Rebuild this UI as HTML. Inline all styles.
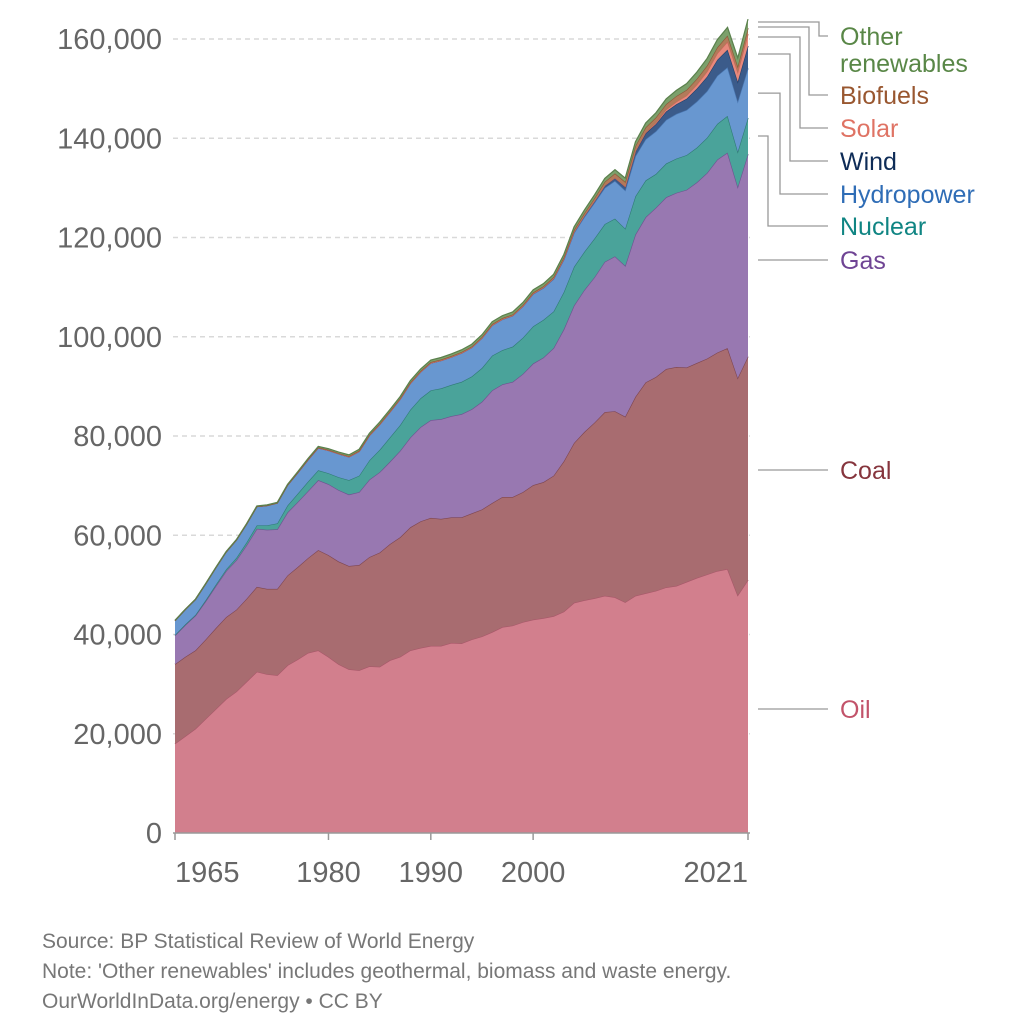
<!DOCTYPE html>
<html><head><meta charset="utf-8">
<style>
body{margin:0;background:#fff;width:1026px;height:1028px;overflow:hidden;font-family:"Liberation Sans",sans-serif}
svg text{font-family:"Liberation Sans",sans-serif}
</style></head><body>
<svg id="chart" width="1026" height="1028" xmlns="http://www.w3.org/2000/svg">
<g id="grid"></g>
<g id="areas"></g>
<g id="axes"></g>
<g id="legend"></g>
<text x="42" y="948" font-size="21" fill="#777">Source: BP Statistical Review of World Energy</text>
<text x="42" y="978" font-size="21" fill="#777">Note: 'Other renewables' includes geothermal, biomass and waste energy.</text>
<text x="42" y="1008" font-size="21" fill="#777">OurWorldInData.org/energy • CC BY</text>
</svg>
<script>
const years = [];for(let y=1965;y<=2021;y++)years.push(y);
const oil = [18000,19500,21000,23000,25000,27000,28500,30500,32500,32000,31800,33800,35000,36300,36800,35500,34000,33000,32800,33600,33500,34800,35500,36800,37300,37700,37700,38300,38200,39000,39600,40500,41500,41800,42500,43000,43300,43700,44600,46400,46900,47300,47800,47500,46500,47800,48300,48800,49500,49800,50600,51400,52100,52800,53200,47900,51000];
const coal = [16000,16000,15800,16000,16300,16500,16500,16700,17100,17200,17400,18100,18600,19100,20200,20500,20700,20800,21200,22000,23000,23400,24100,24800,25500,25800,25600,25300,25400,25400,25600,26000,26200,25900,26200,27100,27400,28300,30300,32200,33900,35400,37000,37500,37400,40100,42500,43100,44000,44100,43200,43300,43500,44000,44500,43800,42700];
coal[56]=45000;
const gas = [5800,6400,7000,7700,8500,9300,10000,10800,11700,11900,12000,12700,13100,13500,14100,14300,14400,14400,14700,15600,16200,16600,17400,18100,19000,19700,20100,20400,20800,21000,21700,22700,22700,23200,23800,24500,25100,25700,26600,27700,28600,29300,30300,31200,30400,32700,33300,34100,34600,35100,35800,36400,37400,38900,39400,38500,40800];
const nuclear = [100,130,160,220,280,330,440,560,700,900,1200,1400,1700,1900,2000,2200,2600,2900,3300,3900,4500,4900,5200,5600,5800,6000,6200,6300,6500,6600,6800,7000,6900,7100,7300,7500,7600,7400,7500,7800,7700,7800,7600,7600,7500,7700,7400,6800,6800,6900,7000,7000,7100,7200,7400,7100,7300];
const hydro = [2900,3000,3100,3300,3400,3500,3600,3700,3800,4000,4100,4100,4200,4400,4500,4600,4700,4700,4900,5000,5100,5100,5200,5300,5300,5500,5600,5600,5800,5800,6000,6100,6200,6200,6300,6500,6400,6500,6500,6800,7000,7200,7300,7600,7700,8100,8300,8600,8800,9000,9100,9300,9400,9700,9800,10100,10000];
const wind = [0,0,0,0,0,0,0,0,0,0,0,0,0,0,0,0,0,0,0,0,0,0,0,0,0,10,10,10,20,20,30,30,40,50,60,80,100,140,170,230,280,360,470,610,750,950,1200,1450,1700,1950,2250,2600,2900,3200,3550,4000,4500];
const solar = [0,0,0,0,0,0,0,0,0,0,0,0,0,0,0,0,0,0,0,0,0,0,0,0,0,0,0,0,0,0,0,0,0,0,0,0,0,0,0,0,10,10,20,30,50,90,180,280,380,500,650,820,1050,1300,1600,1950,2400];
const biofuels = [0,0,0,0,0,0,0,0,0,0,0,20,50,80,100,120,130,140,150,160,170,180,190,200,200,200,200,210,210,220,220,230,230,240,240,250,260,290,340,400,480,570,720,880,900,1000,1000,1050,1100,1150,1150,1150,1180,1200,1250,1150,1200];
const other = [60,60,70,70,80,90,90,100,110,120,130,150,160,180,200,220,240,260,280,300,320,340,350,370,380,400,410,420,430,450,460,480,490,500,510,520,530,550,570,600,630,660,700,740,780,850,900,950,1050,1150,1250,1350,1450,1550,1650,1700,1800];

const seriesNames = ["Oil","Coal","Gas","Nuclear","Hydropower","Wind","Solar","Biofuels","Other renewables"];
const seriesData = [oil,coal,gas,nuclear,hydro,wind,solar,biofuels,other];
const fills = ["#d27f8d","#a86c70","#9878b1","#4aa39a","#6897d0","#3b5b8a","#e8897c","#b27b5a","#7ca06b"];
const strokes = ["#a8586a","#7e4650","#6e5290","#2f7b74","#4a78b3","#23406b","#c9665a","#8a5838","#5a804c"];
const textColors = ["#c2536a","#86353d","#6f4494","#108583","#2f6db6","#0e2c57","#df7364","#995730","#598747"];
const yTicks = [0,20000,40000,60000,80000,100000,120000,140000,160000];
const xTickYears = [1965,1980,1990,2000,2021];

const X0=175,X1=748,Y0=833,Y160=39;
const xs = y => X0 + (y-1965)*(X1-X0)/(2021-1965);
const ys = v => Y0 - v*(Y0-Y160)/160000;
const NS="http://www.w3.org/2000/svg";
function mk(tag,attrs,parent){const e=document.createElementNS(NS,tag);for(const k in attrs)e.setAttribute(k,attrs[k]);parent.appendChild(e);return e;}

const grid=document.getElementById('grid'),axes=document.getElementById('axes'),areas=document.getElementById('areas'),legend=document.getElementById('legend');
yTicks.forEach(t=>{
  if(t>0){const l=mk('line',{x1:173,x2:750,y1:ys(t),y2:ys(t),stroke:'#d9d9d9','stroke-width':1.5,'stroke-dasharray':'5,4'},grid);
  
  }
  const tx=mk('text',{x:162,y:ys(t)+10,'text-anchor':'end','font-size':29,fill:'#666'},axes);
  tx.textContent=t.toLocaleString('en-US');
  
  
});

const cum=[];let base=years.map(()=>0);
seriesData.forEach((s,i)=>{const top=base.map((b,j)=>b+s[j]);cum.push({lo:base,hi:top});base=top;});
cum.forEach((c,i)=>{
  let d='M'+years.map((y,j)=>xs(y)+','+ys(c.hi[j])).join(' L');
  for(let j=years.length-1;j>=0;j--)d+=' L'+xs(years[j])+','+ys(c.lo[j]);
  d+='Z';
  const p=mk('path',{d:d,fill:fills[i]},areas);
  
  
  const ln=mk('path',{d:'M'+years.map((y,j)=>xs(y)+','+ys(c.hi[j])).join(' L'),fill:'none',stroke:strokes[i],'stroke-width':1.2},areas);
  
  
});

const ax=mk('line',{x1:173,x2:750,y1:Y0,y2:Y0,stroke:'#999','stroke-width':1.5},axes);


xTickYears.forEach((y,i)=>{
  const t=mk('line',{x1:xs(y),x2:xs(y),y1:Y0,y2:Y0+7,stroke:'#999','stroke-width':1.5},axes);
  
  
  const anchor=i===0?'start':(i===xTickYears.length-1?'end':'middle');
  const tx=mk('text',{x:xs(y),y:882,'text-anchor':anchor,'font-size':29,fill:'#666'},axes);
  tx.textContent=y;
  
  
});

const labelY=[709,470,260,226,194,161,128,95,36];
const bendX=[null,null,null,768,780,790,800,809,819];
const last=years.length-1;
seriesNames.forEach((n,i)=>{
  const midY=ys((cum[i].lo[last]+cum[i].hi[last])/2);
  const startY = i>=5 ? [54,37,27,22][i-5] : midY;
  const ly=labelY[i];
  let d;
  if(bendX[i]===null) d=`M758,${ly} L828,${ly}`;
  else d=`M758,${startY} L${bendX[i]},${startY} L${bendX[i]},${ly} L828,${ly}`;
  const p=mk('path',{d:d,fill:'none',stroke:'#999','stroke-width':1.3},legend);
  
  
  const t=mk('text',{x:840,y:labelY[i]+9,'font-size':25,fill:textColors[i]},legend);
  
  
  if(n==='Other renewables'){
    const a=mk('tspan',{x:840,y:labelY[i]+9},t);a.textContent='Other';
    const b=mk('tspan',{x:840,y:labelY[i]+36},t);b.textContent='renewables';
  } else t.textContent=n;
});
</script>
</body></html>
